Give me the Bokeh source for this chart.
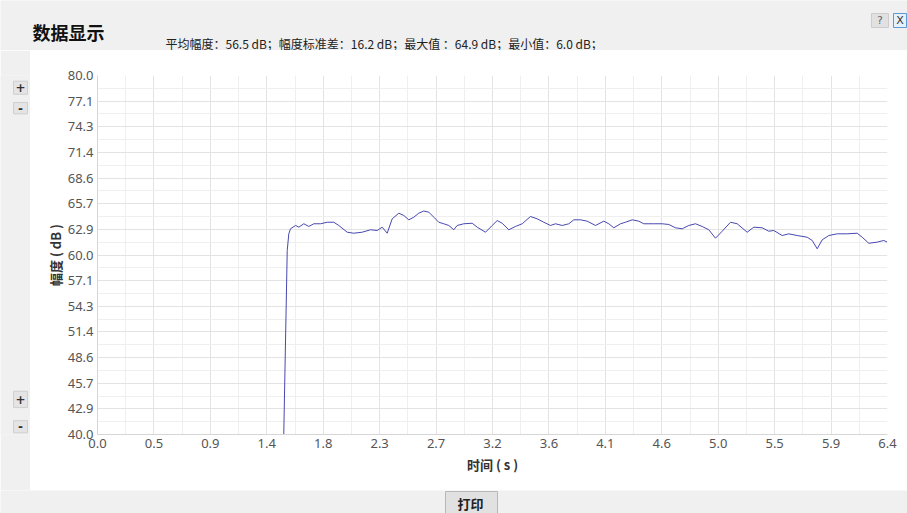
from bokeh.plotting import figure
from bokeh.layouts import column, row
from bokeh.models import Range1d, FixedTicker, Label, CustomJSTickFormatter
from bokeh.embed import file_html
from bokeh.resources import INLINE

# ---------------- data ----------------
time_s = [1.498, 1.503, 1.531, 1.5437, 1.5574, 1.5978, 1.6244, 1.6648, 1.7051, 1.7455,
          1.7995, 1.8536, 1.9068, 1.9472, 2.0150, 2.0682, 2.1360, 2.2030, 2.2571, 2.2974,
          2.3378, 2.3781, 2.4314, 2.4717, 2.5121, 2.5524, 2.5928, 2.6331, 2.6735, 2.7138,
          2.7542, 2.7945, 2.8349, 2.8752, 2.9026, 2.9559, 3.0237, 3.0640, 3.1310, 3.1851,
          3.2254, 3.2658, 3.3190, 3.3731, 3.4272, 3.4941, 3.5482, 3.6015, 3.6555, 3.6959,
          3.7500, 3.8032, 3.8436, 3.8976, 3.9517, 4.0187, 4.0856, 4.1260, 4.1663, 4.2204,
          4.2607, 4.3148, 4.3681, 4.4084, 4.4891, 4.5569, 4.6102, 4.6642, 4.7183, 4.7716,
          4.8256, 4.8797, 4.9329, 4.9870, 5.0411, 5.1081, 5.1621, 5.2428, 5.2961, 5.3639,
          5.4171, 5.4575, 5.5253, 5.5785, 5.6463, 5.7270, 5.7673, 5.8077, 5.8480, 5.9013,
          5.9691, 6.0498, 6.1304, 6.1708, 6.2241, 6.2919, 6.3451, 6.3726]
amplitude_db = [6.0, 40.0, 60.5, 62.36, 62.92, 63.29, 63.10, 63.48, 63.18, 63.48,
                63.48, 63.65, 63.65, 63.29, 62.54, 62.43, 62.54, 62.81, 62.73, 63.10,
                62.43, 64.03, 64.66, 64.40, 63.92, 64.21, 64.66, 64.90, 64.77, 64.21,
                63.65, 63.48, 63.29, 62.81, 63.29, 63.48, 63.54, 63.10, 62.54, 63.29,
                63.84, 63.54, 62.81, 63.18, 63.48, 64.29, 64.03, 63.65, 63.29, 63.48,
                63.29, 63.48, 63.92, 63.92, 63.77, 63.29, 63.77, 63.48, 63.03, 63.48,
                63.65, 63.92, 63.77, 63.48, 63.48, 63.48, 63.40, 63.03, 62.92, 63.29,
                63.48, 63.18, 62.81, 61.87, 62.65, 63.65, 63.48, 62.54, 63.10, 63.03,
                62.65, 62.73, 62.17, 62.36, 62.17, 61.98, 61.62, 60.69, 61.69, 62.17,
                62.36, 62.36, 62.43, 61.98, 61.31, 61.43, 61.62, 61.43]

x_tick_labels = ["0.0", "0.5", "0.9", "1.4", "1.8", "2.3", "2.7", "3.2",
                 "3.6", "4.1", "4.6", "5.0", "5.5", "5.9", "6.4"]
y_tick_labels = ["40.0", "42.9", "45.7", "48.6", "51.4", "54.3", "57.1", "60.0",
                 "62.9", "65.7", "68.6", "71.4", "74.3", "77.1", "80.0"]
x_max = 6.375
y_min, y_max = 40.0, 80.0

title_text = "数据显示"
stats_text = "平均幅度：56.5 dB；幅度标准差：16.2 dB；最大值 ：64.9 dB；最小值：6.0 dB；"
x_label = "时间 ( s )"
y_label = "幅度 ( dB )"

CJK = "Noto Sans CJK SC"
GRAY = "#f0f0f0"
W = 907
TOP_H, MAIN_H, BOT_H = 50, 440, 23
LEFT_W = 30


# ---------------- helpers for window chrome panels ----------------
def panel(w, h, bg):
    f = figure(width=w, height=h, output_backend="svg", toolbar_location=None,
               x_range=Range1d(0, w), y_range=Range1d(h, 0),
               x_axis_type=None, y_axis_type=None,
               min_border=0, min_border_left=0, min_border_right=0,
               min_border_top=0, min_border_bottom=0)
    f.outline_line_color = None
    f.background_fill_color = bg
    f.border_fill_color = bg
    f.xgrid.visible = False
    f.ygrid.visible = False
    return f


def btn(f, l, r, t, b, fill, line):
    f.quad(left=[l], right=[r], top=[t], bottom=[b], fill_color=fill, line_color=line, line_width=1)


def lab(f, x, y, text, size="12px", style="normal", color="#222222", font=CJK, align="left"):
    f.add_layout(Label(x=x, y=y, text=text, text_font=font, text_font_size=size,
                       text_font_style=style, text_color=color, text_align=align,
                       text_baseline="middle"))


# top band
top = panel(W, TOP_H, GRAY)
lab(top, 32, 31, title_text, size="18px", style="bold", color="#111111")
lab(top, 165, 42.5, stats_text, size="12px", color="#222222")
btn(top, 871, 888, 27, 13, "#e1e1e1", "#cccccc")
lab(top, 879.5, 20, "?", size="11px", color="#666666", font="DejaVu Sans", align="center")
btn(top, 893, 906, 27, 13, "#e5f1fb", "#5b9bd5")
lab(top, 899.5, 20, "X", size="11px", color="#333333", font="DejaVu Sans", align="center")

# left strip with +/- buttons
left = panel(LEFT_W, MAIN_H, GRAY)
for (t, b, s) in [(7, 23, "+"), (33, 47, "-"), (387, 407, "+"), (423, 438, "-")]:
    btn(left, 13, 27, b, t, "#e4e4e4", "#cfcfcf")
    lab(left, 20, (t + b) / 2, s, size="12px", style="bold", color="#333333",
        font="DejaVu Sans", align="center")

# bottom band with print button
bot = panel(W, BOT_H, GRAY)
btn(bot, 445, 497, BOT_H, 1, "#e1e1e1", "#b8b8b8")
lab(bot, 470, 13, "打印", size="13px", style="bold", color="#222222", align="center")

# ---------------- main chart ----------------
MAIN_W = W - LEFT_W
p = figure(width=MAIN_W, height=MAIN_H, output_backend="svg", toolbar_location=None,
           x_range=Range1d(0, x_max), y_range=Range1d(y_min, y_max),
           min_border_left=67, min_border_right=20, min_border_top=25, min_border_bottom=56)
p.outline_line_color = None
p.background_fill_color = "white"
p.border_fill_color = "white"

nx = len(x_tick_labels) - 1
xstep = x_max / nx
xticker = FixedTicker(ticks=[xstep * i for i in range(nx + 1)],
                      minor_ticks=[xstep * (i + 0.5) for i in range(nx)])
ny = len(y_tick_labels) - 1
ystep = (y_max - y_min) / ny
yticker = FixedTicker(ticks=[y_min + ystep * i for i in range(ny + 1)],
                      minor_ticks=[y_min + ystep * (i + 0.5) for i in range(ny)])

p.xaxis.ticker = xticker
p.yaxis.ticker = yticker
p.xgrid.ticker = xticker
p.ygrid.ticker = yticker
p.xaxis.formatter = CustomJSTickFormatter(args=dict(labels=x_tick_labels, step=xstep, lo=0.0),
                                          code="return labels[Math.round((tick - lo) / step)];")
p.yaxis.formatter = CustomJSTickFormatter(args=dict(labels=y_tick_labels, step=ystep, lo=y_min),
                                          code="return labels[Math.round((tick - lo) / step)];")

for g in (p.xgrid, p.ygrid):
    g.grid_line_color = "#e3e3e3"
    g.grid_line_width = 1
    g.minor_grid_line_color = "#efefef"

for ax in (p.xaxis, p.yaxis):
    ax.axis_line_color = "#d6d6d6"
    ax.major_tick_line_color = None
    ax.minor_tick_line_color = None
    ax.major_tick_out = 0
    ax.major_tick_in = 0
    ax.major_label_text_font = "Noto Sans"
    ax.major_label_text_font_size = "13px"
    ax.major_label_text_color = "#555555"
    ax.axis_label_text_font = CJK
    ax.axis_label_text_font_size = "13px"
    ax.axis_label_text_font_style = "bold"
    ax.axis_label_text_color = "#333333"

p.xaxis.major_label_standoff = 0
p.yaxis.major_label_standoff = 0
p.xaxis.axis_label = x_label
p.yaxis.axis_label = y_label
p.xaxis.axis_label_standoff = 4
p.yaxis.axis_label_standoff = 0

p.line(time_s, amplitude_db, line_color="#4848b0", line_width=1)

layout = column(top, row(left, p), bot)
open("out.html", "w").write(file_html(layout, INLINE))
